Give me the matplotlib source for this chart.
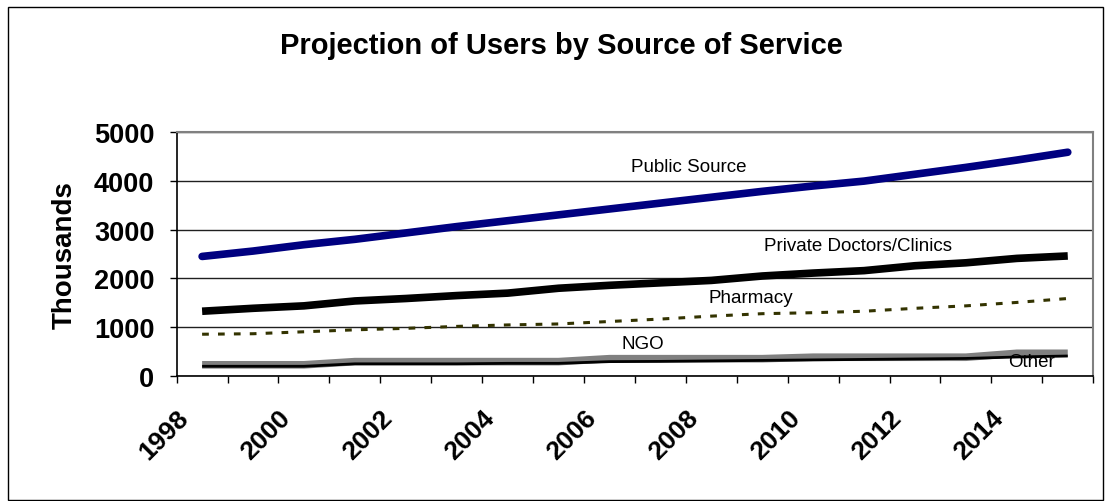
import numpy as np
import matplotlib.pyplot as plt
from matplotlib.patches import Rectangle

plt.rcParams['font.family'] = ['Liberation Sans', 'DejaVu Sans']

# --- data (thousands of users) ---
years = list(range(1998, 2016))
public_source = [2450, 2560, 2690, 2800, 2930, 3060, 3180, 3300, 3420,
                 3540, 3660, 3780, 3890, 3990, 4130, 4270, 4420, 4580]
private_doctors = [1330, 1390, 1440, 1540, 1590, 1650, 1700, 1800, 1860,
                   1910, 1960, 2050, 2110, 2160, 2260, 2320, 2410, 2460]
pharmacy = [860, 870, 910, 950, 980, 1020, 1050, 1070, 1120,
            1170, 1230, 1280, 1300, 1330, 1390, 1440, 1510, 1590]
ngo = [235, 235, 235, 300, 300, 300, 300, 300, 360,
       360, 360, 360, 390, 390, 390, 390, 470, 470]
other = [205, 205, 205, 255, 255, 255, 265, 265, 300,
         305, 315, 325, 335, 345, 355, 365, 395, 415]
tick_years = years[::2]

x = np.arange(len(years))

fig = plt.figure(figsize=(11.11, 5.02), dpi=100)
ax = fig.add_axes([0.159, 0.2484, 0.825, 0.4873])

ax.plot(x, ngo, color='#808080', lw=5.5, solid_capstyle='butt', zorder=3)
ax.plot(x, other, color='black', lw=2, solid_capstyle='butt', zorder=4)
ax.plot(x, pharmacy, color='#333300', lw=2.2, dashes=(2.2, 3.0), zorder=3)
ax.plot(x, private_doctors, color='black', lw=5.5, solid_capstyle='butt', zorder=3)
ax.plot(x, public_source, color='#000080', lw=5.5, solid_capstyle='round', zorder=3)

# series labels
lab = dict(fontsize=13.5, ha='center', va='center', zorder=5)
ax.text(9.55, 4280, 'Public Source', **lab)
ax.text(12.88, 2670, 'Private Doctors/Clinics', **lab)
ax.text(10.78, 1615, 'Pharmacy', **lab)
ax.text(8.66, 680, 'NGO', **lab)
ax.text(16.29, 306, 'Other', **lab)

ax.set_xlim(-0.5, len(years) - 0.5)
ax.set_ylim(0, 5000)
ax.set_yticks([0, 1000, 2000, 3000, 4000, 5000])
ax.set_yticklabels(['0', '1000', '2000', '3000', '4000', '5000'],
                   fontsize=19.5, fontweight='bold')
ax.yaxis.grid(True, color='#202020', lw=1)
ax.set_axisbelow(True)

# year labels sit at the left edge of their category, like the original
ax.set_xticks(x[::2] - 0.5)
ax.set_xticklabels([str(y) for y in tick_years], rotation=45, ha='right',
                   rotation_mode='anchor', fontsize=19, fontweight='bold')
ax.set_xticks(np.arange(-0.5, len(years)), minor=True)
ax.tick_params(axis='x', which='major', length=5, width=1, pad=16)
ax.tick_params(axis='x', which='minor', length=5, width=1)
ax.tick_params(axis='y', length=5, width=1, pad=11)

ax.set_ylabel('Thousands', fontsize=20, fontweight='bold', labelpad=12)
ax.set_title('Projection of Users by Source of Service',
             fontsize=21, fontweight='bold', x=0.42, pad=57)

for s in ['left', 'bottom']:
    ax.spines[s].set_color('black')
    ax.spines[s].set_linewidth(1.2)
for s in ['top', 'right']:
    ax.spines[s].set_color('#808080')
    ax.spines[s].set_linewidth(1.5)

fig.patches.append(Rectangle((8 / 1111, 0.002), 1095 / 1111, 1 - 8 / 502 - 0.002,
                             transform=fig.transFigure, fill=False,
                             edgecolor='black', lw=1))

fig.savefig('out.png', dpi=100)
